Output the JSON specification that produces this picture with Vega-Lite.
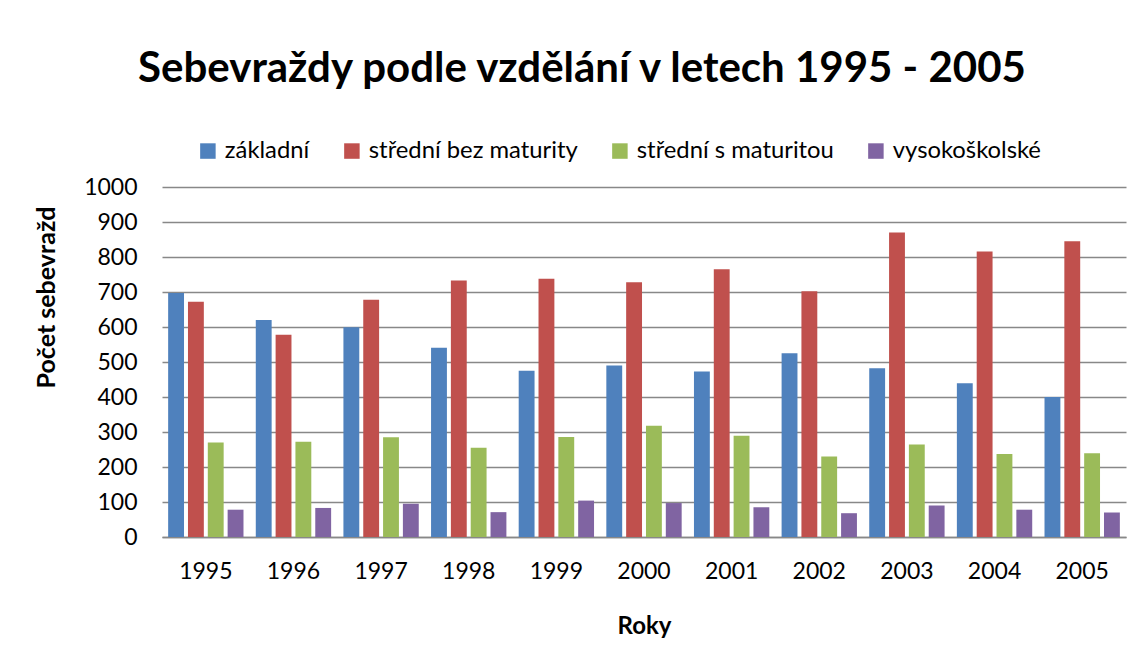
{
  "$schema": "https://vega.github.io/schema/vega-lite/v6.json",
  "width": 964,
  "height": 350,
  "autosize": {"type": "none"},
  "padding": {"left": 162, "top": 187, "right": 18, "bottom": 116},
  "background": "white",
  "title": {
    "text": "Sebevraždy podle vzdělání v letech 1995 - 2005",
    "font": "Lato",
    "fontSize": 42,
    "fontWeight": "bold",
    "color": "black",
    "anchor": "middle",
    "frame": "group",
    "dx": -62,
    "offset": 48
  },
  "data": {
    "values": [
      {"rok": "1995", "vzdelani": "základní", "pocet": 697},
      {"rok": "1995", "vzdelani": "střední bez maturity", "pocet": 672},
      {"rok": "1995", "vzdelani": "střední s maturitou", "pocet": 270},
      {"rok": "1995", "vzdelani": "vysokoškolské", "pocet": 78},
      {"rok": "1996", "vzdelani": "základní", "pocet": 620},
      {"rok": "1996", "vzdelani": "střední bez maturity", "pocet": 578},
      {"rok": "1996", "vzdelani": "střední s maturitou", "pocet": 272},
      {"rok": "1996", "vzdelani": "vysokoškolské", "pocet": 83},
      {"rok": "1997", "vzdelani": "základní", "pocet": 599},
      {"rok": "1997", "vzdelani": "střední bez maturity", "pocet": 678},
      {"rok": "1997", "vzdelani": "střední s maturitou", "pocet": 285},
      {"rok": "1997", "vzdelani": "vysokoškolské", "pocet": 95},
      {"rok": "1998", "vzdelani": "základní", "pocet": 541},
      {"rok": "1998", "vzdelani": "střední bez maturity", "pocet": 733},
      {"rok": "1998", "vzdelani": "střední s maturitou", "pocet": 255},
      {"rok": "1998", "vzdelani": "vysokoškolské", "pocet": 71},
      {"rok": "1999", "vzdelani": "základní", "pocet": 475},
      {"rok": "1999", "vzdelani": "střední bez maturity", "pocet": 738},
      {"rok": "1999", "vzdelani": "střední s maturitou", "pocet": 286},
      {"rok": "1999", "vzdelani": "vysokoškolské", "pocet": 104},
      {"rok": "2000", "vzdelani": "základní", "pocet": 490},
      {"rok": "2000", "vzdelani": "střední bez maturity", "pocet": 728},
      {"rok": "2000", "vzdelani": "střední s maturitou", "pocet": 318},
      {"rok": "2000", "vzdelani": "vysokoškolské", "pocet": 97},
      {"rok": "2001", "vzdelani": "základní", "pocet": 473},
      {"rok": "2001", "vzdelani": "střední bez maturity", "pocet": 765},
      {"rok": "2001", "vzdelani": "střední s maturitou", "pocet": 289},
      {"rok": "2001", "vzdelani": "vysokoškolské", "pocet": 85},
      {"rok": "2002", "vzdelani": "základní", "pocet": 525},
      {"rok": "2002", "vzdelani": "střední bez maturity", "pocet": 702},
      {"rok": "2002", "vzdelani": "střední s maturitou", "pocet": 230},
      {"rok": "2002", "vzdelani": "vysokoškolské", "pocet": 68},
      {"rok": "2003", "vzdelani": "základní", "pocet": 482},
      {"rok": "2003", "vzdelani": "střední bez maturity", "pocet": 870},
      {"rok": "2003", "vzdelani": "střední s maturitou", "pocet": 264},
      {"rok": "2003", "vzdelani": "vysokoškolské", "pocet": 90},
      {"rok": "2004", "vzdelani": "základní", "pocet": 439},
      {"rok": "2004", "vzdelani": "střední bez maturity", "pocet": 816},
      {"rok": "2004", "vzdelani": "střední s maturitou", "pocet": 237},
      {"rok": "2004", "vzdelani": "vysokoškolské", "pocet": 78},
      {"rok": "2005", "vzdelani": "základní", "pocet": 400},
      {"rok": "2005", "vzdelani": "střední bez maturity", "pocet": 845},
      {"rok": "2005", "vzdelani": "střední s maturitou", "pocet": 239},
      {"rok": "2005", "vzdelani": "vysokoškolské", "pocet": 70}
    ]
  },
  "mark": {"type": "bar"},
  "encoding": {
    "x": {
      "field": "rok",
      "type": "nominal",
      "scale": {"paddingInner": 0, "paddingOuter": 0},
      "axis": {
        "title": "Roky",
        "titleFont": "Lato",
        "titleFontSize": 24,
        "titleFontWeight": "bold",
        "titleColor": "black",
        "titlePadding": 31,
        "labelFont": "Lato",
        "labelFontSize": 23,
        "labelColor": "black",
        "labelAngle": 0,
        "labelPadding": 23,
        "ticks": false,
        "domain": true,
        "domainColor": "#888888",
        "domainWidth": 1.5,
        "grid": false
      }
    },
    "xOffset": {
      "field": "vzdelani",
      "type": "nominal",
      "sort": ["základní", "střední bez maturity", "střední s maturitou", "vysokoškolské"],
      "scale": {"paddingInner": 0.2, "paddingOuter": 0.31}
    },
    "y": {
      "field": "pocet",
      "type": "quantitative",
      "scale": {"domain": [0, 1000], "nice": false},
      "axis": {
        "title": "Počet sebevražd",
        "titleFont": "Lato",
        "titleFontSize": 25,
        "titleFontWeight": "bold",
        "titleColor": "black",
        "titleAngle": -90,
        "titleX": -116,
        "titleY": 110,
        "titleAlign": "center",
        "titleBaseline": "middle",
        "values": [0, 100, 200, 300, 400, 500, 600, 700, 800, 900, 1000],
        "format": "d",
        "labelFont": "Lato",
        "labelFontSize": 23,
        "labelColor": "black",
        "labelPadding": 25,
        "ticks": false,
        "domain": false,
        "grid": true,
        "gridColor": "#888888",
        "gridWidth": 1.5
      }
    },
    "color": {
      "field": "vzdelani",
      "type": "nominal",
      "sort": ["základní", "střední bez maturity", "střední s maturitou", "vysokoškolské"],
      "scale": {
        "domain": ["základní", "střední bez maturity", "střední s maturitou", "vysokoškolské"],
        "range": ["#4F81BD", "#C0504D", "#9BBB59", "#8064A2"]
      },
      "legend": {
        "title": null,
        "orient": "none",
        "direction": "horizontal",
        "legendX": 34,
        "legendY": -48,
        "symbolType": "square",
        "symbolSize": 240,
        "symbolStrokeWidth": 0,
        "labelFont": "Lato",
        "labelFontSize": 23.8,
        "labelColor": "black",
        "labelOffset": 5,
        "columnPadding": 30,
        "labelLimit": 400
      }
    }
  },
  "config": {
    "view": {"stroke": null}
  }
}
